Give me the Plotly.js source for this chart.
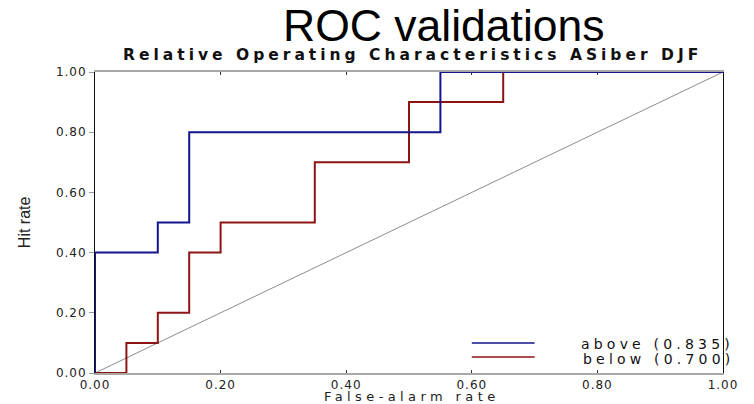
<!DOCTYPE html>
<html><head><meta charset="utf-8">
<script src="https://cdn.plot.ly/plotly-3.0.1.min.js"></script>
<style>html,body{margin:0;padding:0;background:#fff}#chart{width:754px;height:404px}</style>
</head><body><div id="chart"></div>
<script>
// Data
const aboveX = [0, 0, 0.10, 0.10, 0.15, 0.15, 0.55, 0.55, 1.00];
const aboveY = [0, 0.40, 0.40, 0.50, 0.50, 0.80, 0.80, 1.00, 1.00];
const belowX = [0, 0.05, 0.05, 0.10, 0.10, 0.15, 0.15, 0.20, 0.20, 0.35, 0.35, 0.50, 0.50, 0.65, 0.65, 1.00];
const belowY = [0, 0, 0.10, 0.10, 0.20, 0.20, 0.40, 0.40, 0.50, 0.50, 0.70, 0.70, 0.90, 0.90, 1.00, 1.00];
const diagX = [0, 1];
const diagY = [0, 1];
const seriesNames = ["above (0.835)", "below (0.700)"];
const tickVals = [0, 0.2, 0.4, 0.6, 0.8, 1.0];
const tickLabels = ["0.00", "0.20", "0.40", "0.60", "0.80", "1.00"];
const mainTitle = "ROC validations";
const subTitle = "Relative Operating Characteristics ASiber DJF";
const xTitle = "False-alarm rate";
const yTitle = "Hit rate";

const blue = "#14148c", red = "#8c1414";
const spaced = (s, px) => '<span style="letter-spacing:' + px + 'px">' + s + '</span>';
const tickText = tickLabels.map(t => spaced(t, 1));
const tickFont = {family: "DejaVu Sans", size: 12, color: "#222"};

const traces = [
  {x: diagX, y: diagY, mode: "lines", line: {color: "#6e6e6e", width: 0.8}, showlegend: false, hoverinfo: "skip"},
  {x: belowX, y: belowY, mode: "lines", name: seriesNames[1], line: {color: red, width: 2}, showlegend: false},
  {x: aboveX, y: aboveY, mode: "lines", name: seriesNames[0], line: {color: blue, width: 2}, showlegend: false}
];

const layout = {
  width: 754, height: 404,
  margin: {l: 95, r: 31, t: 72, b: 31},
  paper_bgcolor: "#fff", plot_bgcolor: "#fff",
  showlegend: false,
  xaxis: {
    range: [0, 1], tickvals: tickVals, ticktext: tickText, tickfont: tickFont,
    showgrid: false, zeroline: false, showline: true, linecolor: "#a8a8a8", linewidth: 2, mirror: "ticks",
    ticks: "inside", ticklen: 3, tickcolor: "#333", tickwidth: 1
  },
  yaxis: {
    range: [0, 1], tickvals: tickVals, ticktext: tickText, tickfont: tickFont,
    showgrid: false, zeroline: false, showline: true, linecolor: "#111", linewidth: 1, mirror: true,
    ticks: "outside", ticklen: 5, tickcolor: "#999", tickwidth: 1
  },
  shapes: [
    {type: "line", xref: "x", yref: "y", x0: 0.60, x1: 0.70, y0: 0.10, y1: 0.10, line: {color: blue, width: 1.5}},
    {type: "line", xref: "x", yref: "y", x0: 0.60, x1: 0.70, y0: 0.053, y1: 0.053, line: {color: red, width: 1.5}}
  ],
  annotations: [
    {text: mainTitle, xref: "paper", yref: "paper", x: 0.555, y: 1.155, xanchor: "center", yanchor: "middle", showarrow: false,
     font: {family: "Liberation Sans", size: 44.5, color: "#000"}},
    {text: "<b>" + spaced(subTitle, 4.0) + "</b>", xref: "paper", yref: "paper", x: 0.505, y: 1.055, xanchor: "center", yanchor: "middle", showarrow: false,
     font: {family: "DejaVu Sans", size: 15.5, color: "#111"}},
    {text: spaced(xTitle, 4.4), xref: "paper", yref: "paper", x: 0.505, y: -0.079, xanchor: "center", yanchor: "middle", showarrow: false,
     font: {family: "DejaVu Sans", size: 13, color: "#222"}},
    {text: yTitle, xref: "paper", yref: "paper", x: -0.112, y: 0.50, xanchor: "center", yanchor: "middle", textangle: -90, showarrow: false,
     font: {family: "Liberation Sans Narrow, Liberation Sans", size: 16, color: "#222"}},
    {text: spaced(seriesNames[0], 4.2), xref: "paper", yref: "y", x: 1.02, y: 0.097, xanchor: "right", yanchor: "middle", showarrow: false,
     font: {family: "DejaVu Sans", size: 14, color: "#111"}},
    {text: spaced(seriesNames[1], 4.2), xref: "paper", yref: "y", x: 1.02, y: 0.047, xanchor: "right", yanchor: "middle", showarrow: false,
     font: {family: "DejaVu Sans", size: 14, color: "#111"}}
  ]
};

Plotly.newPlot("chart", traces, layout, {displayModeBar: false, staticPlot: true});
</script></body></html>
